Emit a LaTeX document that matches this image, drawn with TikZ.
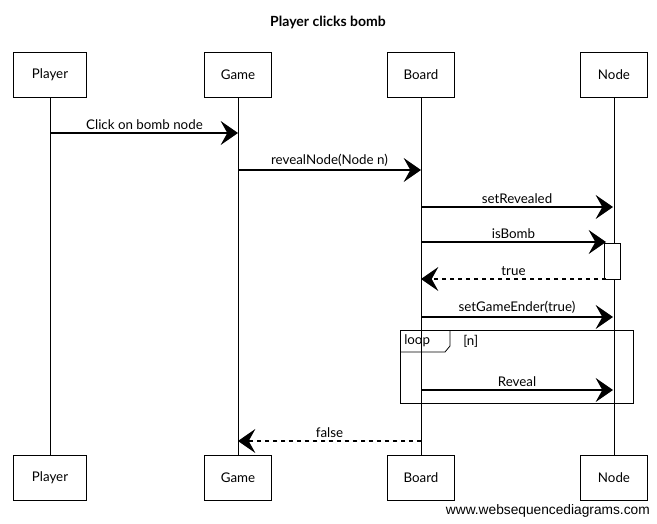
\documentclass[tikz,border=0pt]{standalone}
\usepackage{fontspec}
\setmainfont{Lato}
\newfontfamily\wsdfont{Liberation Sans}
\usetikzlibrary{arrows.meta}

\tikzset{
  actor/.style={draw, line width=0.6pt, minimum width=50pt, minimum height=34pt, font=\fontsize{10}{12}\selectfont},
  life/.style={line width=0.5pt},
  msg/.style={-{Stealth[length=13pt,width=18pt,inset=5pt]}, line width=0.8pt},
  reply/.style={msg, dashed},
  lbl/.style={above, inner sep=2pt, font=\fontsize{10}{12}\selectfont},
  frame/.style={draw, line width=0.6pt}
}

\begin{document}
\begin{tikzpicture}[x=0.75pt,y=-0.75pt]
  \useasboundingbox (0,0) rectangle (657,524);

  \node[font=\bfseries\fontsize{10.5}{12}\selectfont] (title) at (328,22) {Player clicks bomb};

  % participants, top and bottom
  \node[actor, minimum width=55pt] (playerT) at (50,75) {Player};
  \node[actor] (gameT) at (238,75) {Game};
  \node[actor] (boardT) at (421,75) {Board};
  \node[actor] (nodeT) at (614,75) {Node};
  \node[actor, minimum width=55pt] (playerB) at (50,478) {Player};
  \node[actor] (gameB) at (238,478) {Game};
  \node[actor] (boardB) at (421,478) {Board};
  \node[actor] (nodeB) at (614,478) {Node};

  % lifelines
  \draw[life] (playerT) -- (playerB);
  \draw[life] (gameT) -- (gameB);
  \draw[life] (boardT) -- (boardB);
  \draw[life] (nodeT) -- (nodeB);

  % activation of Node
  \node[draw, fill=white, line width=0.6pt, minimum width=12pt, minimum height=27pt, inner sep=0pt] (act) at (612,261) {};

  % loop frame
  \draw[frame] (400,330) rectangle (633,403);
  \draw[frame] (400,352) -- (445,352) -- (450,346) -- (450,330);
  \node[anchor=west, font=\fontsize{10}{12}\selectfont, inner sep=0pt] (looptag) at (404,341) {loop};
  \node[anchor=west, font=\fontsize{10}{12}\selectfont, inner sep=0pt] (guard) at (463,341) {[n]};

  % message ends
  \coordinate (m1a) at (51,133);  \coordinate (m1b) at (238,133);
  \coordinate (m2a) at (238,170); \coordinate (m2b) at (421,170);
  \coordinate (m3a) at (421,207); \coordinate (m3b) at (613,207);
  \coordinate (m4a) at (421,242); \coordinate (m4b) at (606,242);
  \coordinate (m5a) at (606,279); \coordinate (m5b) at (421,279);
  \coordinate (m6a) at (421,317); \coordinate (m6b) at (613,317);
  \coordinate (m7a) at (421,390); \coordinate (m7b) at (613,390);
  \coordinate (m8a) at (421,441); \coordinate (m8b) at (238,441);

  \draw[msg] (m1a) -- node[lbl] {Click on bomb node} (m1b);
  \draw[msg] (m2a) -- node[lbl] {revealNode(Node n)} (m2b);
  \draw[msg] (m3a) -- node[lbl] {setRevealed} (m3b);
  \draw[msg] (m4a) -- node[lbl] {isBomb} (m4b);
  \draw[reply] (m5a) -- node[lbl] {true} (m5b);
  \draw[msg] (m6a) -- node[lbl] {setGameEnder(true)} (m6b);
  \draw[msg] (m7a) -- node[lbl] {Reveal} (m7b);
  \draw[reply] (m8a) -- node[lbl] {false} (m8b);

  \node[anchor=east, font=\wsdfont\fontsize{10.3}{12}\selectfont, inner sep=0pt] (wsd) at (650,511) {www.websequencediagrams.com};
\end{tikzpicture}
\end{document}
